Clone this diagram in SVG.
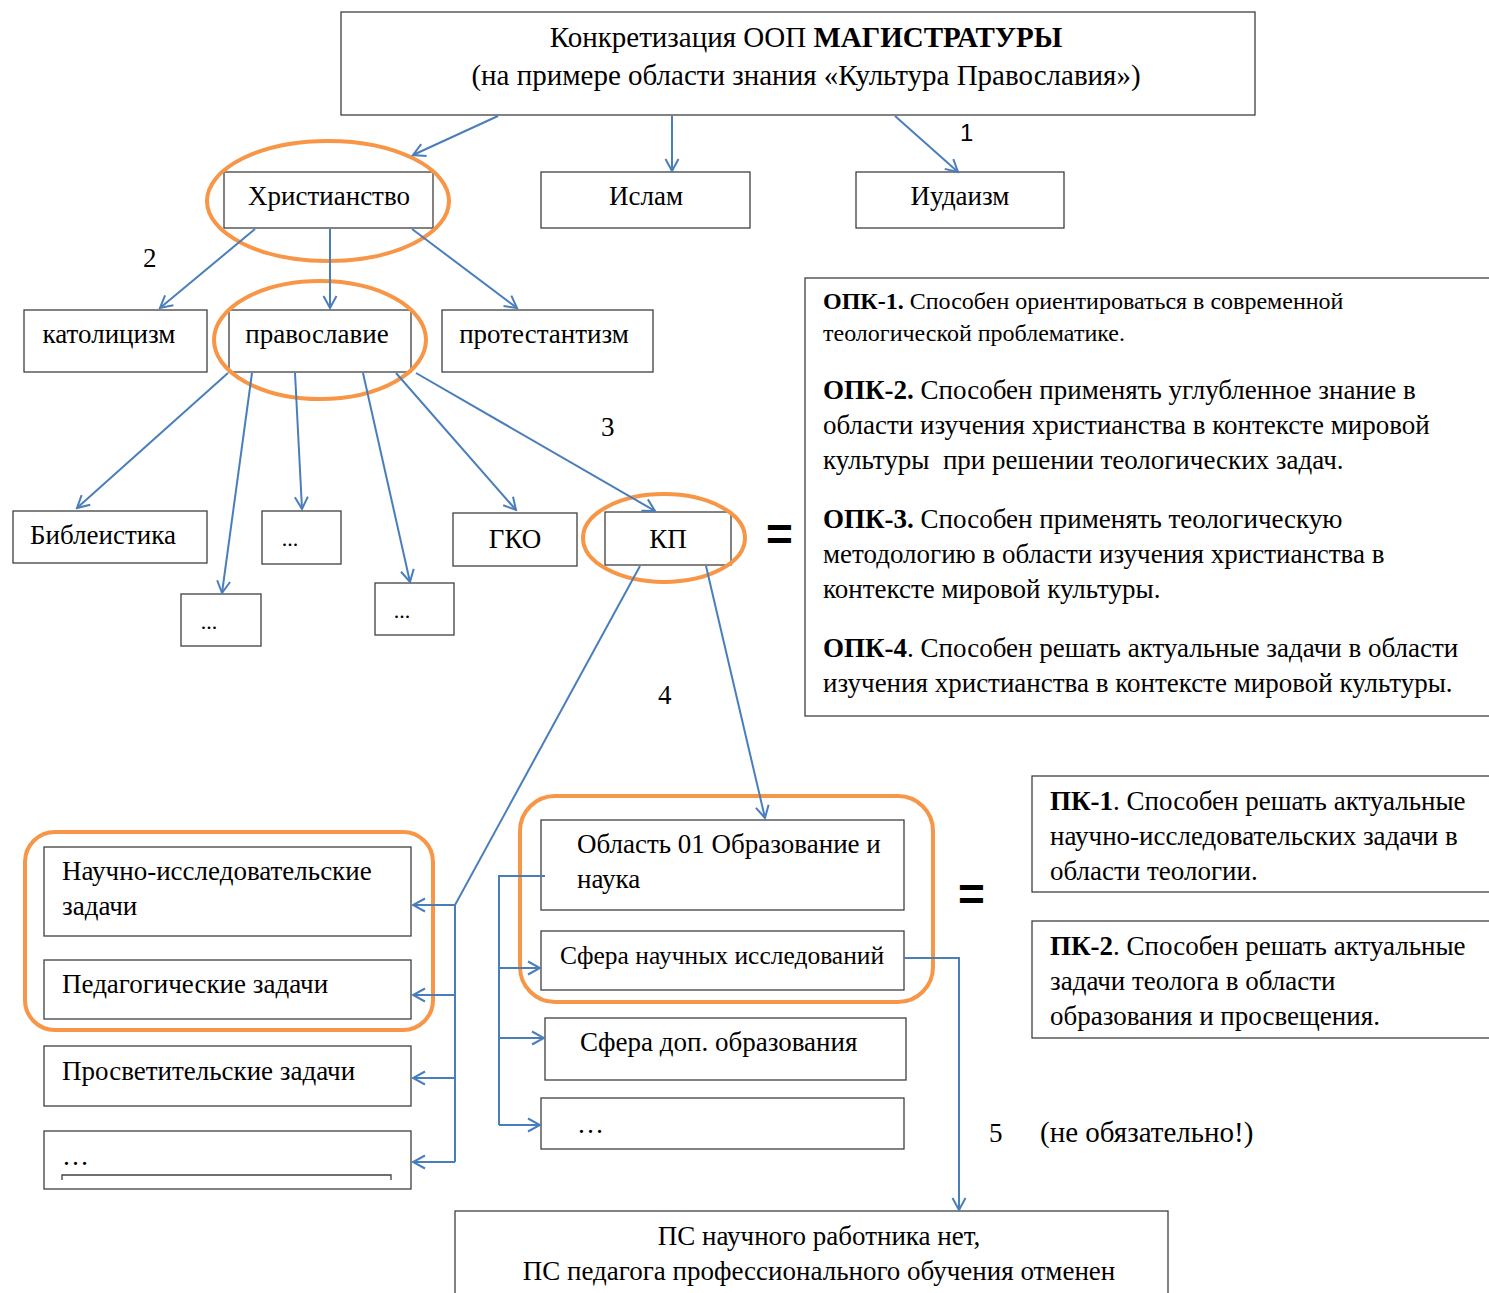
<svg xmlns="http://www.w3.org/2000/svg" width="1489" height="1293" viewBox="0 0 1489 1293">
<defs>
<style>
.b{fill:#fff;stroke:#404040;stroke-width:1.3}
.t{font-family:"Liberation Serif","Times New Roman",serif;font-size:27px;fill:#000}
.c{text-anchor:middle}
.o{fill:none;stroke:#f79646;stroke-width:4}
.l{fill:none;stroke:#4a7ebb;stroke-width:2}
.a{marker-end:url(#ar)}
.bold{font-weight:bold}
.eq{font-family:"Liberation Sans",Arial,sans-serif;font-size:46px;font-weight:bold}
</style>
<marker id="ar" viewBox="0 0 16 16" refX="14" refY="8" markerWidth="16" markerHeight="16" markerUnits="userSpaceOnUse" orient="auto">
<path d="M2,1.5 L14,8 L2,14.5" fill="none" stroke="#4a7ebb" stroke-width="2"/>
</marker>
</defs>
<rect width="1489" height="1293" fill="#fff"/>

<g id="title">
<rect class="b" x="341" y="12" width="914" height="103"/>
<text class="t c" x="806" y="47" style="font-size:29px">Конкретизация ООП <tspan class="bold">МАГИСТРАТУРЫ</tspan></text>
<text class="t c" x="806" y="85" style="font-size:29px">(на примере области знания «Культура Православия»)</text>
</g>

<g id="christianity">
<rect class="b" x="224" y="172" width="209" height="56"/>
<text class="t c" x="329" y="205">Христианство</text>
<ellipse class="o" cx="328" cy="201" rx="121" ry="60"/>
</g>
<g id="islam">
<rect class="b" x="541" y="172" width="209" height="56"/>
<text class="t c" x="646" y="205">Ислам</text>
</g>
<g id="judaism">
<rect class="b" x="856" y="172" width="208" height="56"/>
<text class="t c" x="960" y="205">Иудаизм</text>
</g>

<g id="catholicism">
<rect class="b" x="24" y="310" width="183" height="62"/>
<text class="t c" x="109" y="343">католицизм</text>
</g>
<g id="orthodoxy">
<rect class="b" x="229" y="310" width="182" height="62"/>
<text class="t c" x="317" y="343">православие</text>
<ellipse class="o" cx="320" cy="340" rx="106" ry="59"/>
</g>
<g id="protestantism">
<rect class="b" x="442" y="310" width="211" height="62"/>
<text class="t c" x="544" y="343">протестантизм</text>
</g>

<g id="biblical">
<rect class="b" x="13" y="511" width="194" height="52"/>
<text class="t c" x="103" y="544">Библеистика</text>
</g>
<g id="dots1">
<rect class="b" x="262" y="511" width="79" height="53"/>
<text class="t c" x="290" y="546" style="font-size:22px">...</text>
</g>
<g id="dots2">
<rect class="b" x="181" y="594" width="80" height="52"/>
<text class="t c" x="209" y="629" style="font-size:22px">...</text>
</g>
<g id="dots3">
<rect class="b" x="375" y="583" width="79" height="52"/>
<text class="t c" x="402" y="618" style="font-size:22px">...</text>
</g>
<g id="gko">
<rect class="b" x="453" y="513" width="124" height="53"/>
<text class="t c" x="515" y="548">ГКО</text>
</g>
<g id="kp">
<rect class="b" x="605" y="512" width="126" height="53"/>
<text class="t c" x="668" y="548">КП</text>
<ellipse class="o" cx="664" cy="538" rx="81" ry="44"/>
</g>

<g id="opk">
<rect class="b" x="805" y="278" width="690" height="438"/>
<text class="t" x="823" y="309" style="font-size:24px"><tspan class="bold">ОПК-1.</tspan> Способен ориентироваться в современной</text>
<text class="t" x="823" y="341" style="font-size:24px">теологической проблематике.</text>
<text class="t" x="823" y="399"><tspan class="bold">ОПК-2.</tspan> Способен применять углубленное знание в</text>
<text class="t" x="823" y="434">области изучения христианства в контексте мировой</text>
<text class="t" x="823" y="469" xml:space="preserve">культуры  при решении теологических задач.</text>
<text class="t" x="823" y="528"><tspan class="bold">ОПК-3.</tspan> Способен применять теологическую</text>
<text class="t" x="823" y="563">методологию в области изучения христианства в</text>
<text class="t" x="823" y="598">контексте мировой культуры.</text>
<text class="t" x="823" y="657"><tspan class="bold">ОПК-4</tspan>. Способен решать актуальные задачи в области</text>
<text class="t" x="823" y="692">изучения христианства в контексте мировой культуры.</text>
</g>

<g id="research-tasks">
<rect class="b" x="44" y="847" width="367" height="89"/>
<text class="t" x="62" y="880">Научно-исследовательские</text>
<text class="t" x="62" y="915">задачи</text>
</g>
<g id="ped-tasks">
<rect class="b" x="44" y="960" width="367" height="59"/>
<text class="t" x="62" y="993">Педагогические задачи</text>
</g>
<g id="edu-tasks">
<rect class="b" x="44" y="1046" width="367" height="60"/>
<text class="t" x="62" y="1080">Просветительские задачи</text>
</g>
<g id="more-tasks">
<rect class="b" x="44" y="1131" width="367" height="58"/>
<text class="t" x="62" y="1165">…</text>
<polyline points="62,1180 62,1175 391,1175 391,1180" fill="none" stroke="#404040" stroke-width="1.3"/>
</g>
<rect class="o" x="25" y="832" width="408" height="198" rx="30"/>

<g id="area01">
<rect class="b" x="541" y="820" width="363" height="90"/>
<text class="t" x="577" y="853">Область 01 Образование и</text>
<text class="t" x="577" y="888">наука</text>
</g>
<g id="research-sphere">
<rect class="b" x="541" y="931" width="363" height="59"/>
<text class="t" x="560" y="964" style="font-size:25.5px">Сфера научных исследований</text>
</g>
<g id="add-edu">
<rect class="b" x="545" y="1018" width="361" height="62"/>
<text class="t" x="580" y="1051">Сфера доп. образования</text>
</g>
<g id="more-spheres">
<rect class="b" x="541" y="1098" width="363" height="51"/>
<text class="t" x="577" y="1133">…</text>
</g>
<rect class="o" x="520" y="796" width="413" height="206" rx="35"/>

<g id="pk1">
<rect class="b" x="1032" y="776" width="463" height="116"/>
<text class="t" x="1050" y="810"><tspan class="bold">ПК-1</tspan>. Способен решать актуальные</text>
<text class="t" x="1050" y="845">научно-исследовательских задачи в</text>
<text class="t" x="1050" y="880">области теологии.</text>
</g>
<g id="pk2">
<rect class="b" x="1032" y="921" width="463" height="117"/>
<text class="t" x="1050" y="955"><tspan class="bold">ПК-2</tspan>. Способен решать актуальные</text>
<text class="t" x="1050" y="990">задачи теолога в области</text>
<text class="t" x="1050" y="1025">образования и просвещения.</text>
</g>

<g id="ps">
<rect class="b" x="455" y="1211" width="713" height="90"/>
<text class="t c" x="819" y="1245">ПС научного работника нет,</text>
<text class="t c" x="819" y="1280">ПС педагога профессионального обучения отменен</text>
</g>

<g id="labels">
<text x="960" y="141" style="font-family:'Liberation Sans',Arial,sans-serif;font-size:24px">1</text>
<text class="t" x="143" y="267">2</text>
<text class="t" x="601" y="436">3</text>
<text class="t" x="658" y="704">4</text>
<text class="t" x="989" y="1142">5</text>
<text class="t" x="1040" y="1142" style="font-size:29px">(не обязательно!)</text>
<text class="eq" x="766" y="550">=</text>
<text class="eq" x="958" y="910">=</text>
</g>

<g id="connectors">
<line class="l a" x1="498" y1="116" x2="413" y2="155"/>
<line class="l a" x1="672" y1="116" x2="672" y2="171"/>
<line class="l a" x1="895" y1="116" x2="958" y2="172"/>
<line class="l a" x1="255" y1="229" x2="160" y2="308"/>
<line class="l a" x1="330" y1="229" x2="330" y2="308"/>
<line class="l a" x1="412" y1="229" x2="517" y2="308"/>
<line class="l a" x1="228" y1="373" x2="77" y2="508"/>
<line class="l a" x1="252" y1="373" x2="222" y2="593"/>
<line class="l a" x1="295" y1="373" x2="302" y2="509"/>
<line class="l a" x1="363" y1="373" x2="410" y2="582"/>
<line class="l a" x1="396" y1="373" x2="516" y2="510"/>
<line class="l a" x1="416" y1="373" x2="655" y2="511"/>
<polyline class="l" points="640,566 455,905 455,1162"/>
<line class="l a" x1="455" y1="905" x2="413" y2="905"/>
<line class="l a" x1="455" y1="995" x2="413" y2="995"/>
<line class="l a" x1="455" y1="1078" x2="413" y2="1078"/>
<line class="l a" x1="455" y1="1162" x2="413" y2="1162"/>
<line class="l a" x1="706" y1="566" x2="765" y2="818"/>
<polyline class="l" points="545,876 499,876 499,1125"/>
<line class="l a" x1="499" y1="968" x2="540" y2="968"/>
<line class="l a" x1="499" y1="1038" x2="544" y2="1038"/>
<line class="l a" x1="499" y1="1125" x2="540" y2="1125"/>
<polyline class="l a" points="904,958 959,958 959,1210"/>
</g>
</svg>
